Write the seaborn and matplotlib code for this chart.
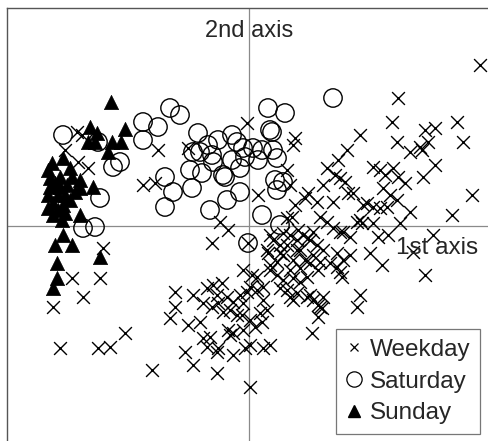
import matplotlib
matplotlib.use("Agg")
import matplotlib.pyplot as plt
from matplotlib.lines import Line2D
import seaborn as sns
import pandas as pd

# scores on the first two axes
weekday_x = [
    -1.72, -1.67, -1.84, -1.71, -1.61, -0.91, -1.06, -0.94, -0.61, -1.46,
    -1.77, -1.49, -1.66, -1.96, -1.24, -1.89, -1.51, -1.39, -0.97,
    -0.02, 0.46, 0.44, 0.09, -0.29, -0.21, -0.37, 0.38, 0.41, 0.98,
    1.49, 1.43, 2.08, 1.11, 1.76, 1.86, 1.48, 1.79, 1.71, 1.73,
    1.61, 2.14, 0.89, 1.86, 1.74, 1.24, 1.31, 1.44, 0.78, 0.86,
    0.91, 1.36, 1.49, 1.56, 0.74, 0.96, 0.99, 1.04, 1.34, 1.41,
    1.48, 0.59, 0.56, 0.46, 0.68, 0.84, 1.18, 1.24, 1.31, 2.23,
    1.61, 2.03, 0.43, 0.38, 0.71, 0.78, 0.84, 0.91, 1.08, 1.13,
    1.24, 1.51, 0.49, 0.54, 0.59, 0.21, 0.94, 1.01, 1.29, 1.39,
    1.84, 1.64, 1.21, 0.19, 0.31, 2.31,
    -0.74, -0.56, -0.74, -0.79, -0.61, -0.49, -0.42, -0.36, -0.27, -0.46,
    -0.37, -0.64, -0.56, -0.32, -0.16, -0.04, 0.14, 0.21, 0.01, -0.46,
    -0.39, -0.42, -0.31, -0.32, -0.21, -0.19, -0.06, 0.03, 0.28, 0.21,
    0.63, 0.71, 0.69, 0.41, 0.48, 0.58, 0.64, 0.34, 0.44, 0.51, 0.58,
    1.33, 1.76, 1.11, 1.08, 1.01, 0.94, 0.91, 0.93, 0.88, 0.81,
    0.88, 0.71, 0.69, 0.51, 0.56, 0.61, 0.74, 0.69, 0.73, 0.61,
    0.44, 0.38, 0.31, 0.21, 0.28, 0.08, 0.01, 0.08, 0.14, 0.18,
    0.11, -0.06, -0.07, 0.01, 0.06, 0.13, -0.06, 0.01, -0.16,
    -0.22, -0.16, -0.19, -0.12, -0.31, -0.32, -0.09, -0.02, -0.26, 0.14,
    0.41, 0.48, 0.61, 0.68, 0.64, 0.74, 0.38, 0.34, 0.44, 0.51,
    0.41, 0.48, 0.24, 0.31, 0.18, 0.34, 0.64, 1.14, 1.38, 1.11,
    -0.01,
]
weekday_y = [
    0.94, 0.91, 0.76, 0.64, 0.58, 0.76, 0.41, 0.43, 0.78, -0.22,
    -0.52, -0.52, -0.71, -0.81, -1.07, -1.22, -1.22, -1.21, -1.44,
    1.03, 0.88, 0.81, 0.31, 0.04, -0.04, -0.17, 0.56, 0.41, 0.76,
    1.28, 1.04, 1.04, 0.91, 0.96, 0.98, 0.84, 0.84, 0.79, 0.76,
    0.74, 0.84, 0.66, 0.61, 0.49, 0.59, 0.56, 0.58, 0.58, 0.51,
    0.48, 0.51, 0.49, 0.43, 0.41, 0.44, 0.33, 0.33, 0.38, 0.31,
    0.26, 0.33, 0.28, 0.21, 0.24, 0.24, 0.23, 0.19, 0.18, 0.31,
    0.14, 0.11, 0.09, 0.08, 0.09, 0.04, -0.02, -0.06, 0.04, 0.03,
    0.03, 0.03, -0.04, -0.09, -0.12, -0.09, -0.06, -0.11, -0.11, -0.09,
    -0.09, -0.26, -0.27, -0.27, -0.27, 1.61,
    -0.66, -0.69, -0.81, -0.92, -0.99, -0.96, -0.62, -0.59, -0.57, -0.77,
    -0.81, -1.26, -1.39, -1.47, -1.29, -1.22, -1.22, -1.19, -1.61, -1.12,
    -1.11, -1.21, -1.22, -1.26, -1.04, -1.09, -0.44, -0.49, -0.36, -0.39,
    -1.07, -0.81, -0.91, -0.71, -0.67, -0.71, -0.74, -0.54, -0.52, -0.56, -0.51,
    -0.39, -0.49, -0.69, -0.81, -0.29, -0.34, -0.46, -0.51, -0.27, -0.37,
    -0.41, -0.36, -0.44, -0.24, -0.34, -0.37, -0.71, -0.79, -0.82, -0.69,
    -0.74, -0.64, -0.62, -0.44, -0.49, -0.51, -0.61, -0.64, -0.74, -0.84,
    -0.87, -0.77, -0.89, -0.94, -1.01, -0.96, -1.04, -1.19, -1.07,
    -0.71, -0.76, -0.84, -0.89, -0.77, -0.69, -0.69, -0.66, -0.86, -0.61,
    -0.09, -0.14, -0.14, -0.19, -0.29, -0.24, -0.19, -0.29, -0.34, -0.42,
    -0.44, -0.24, -0.14, -0.19, -0.24, -0.07, -0.06, 0.21, 0.19, 0.06,
    -0.17,
]

saturday_x = [
    -1.86, -1.06, -0.91, -1.06, -1.51, -1.36, -1.29, -1.49, -1.66, -1.54,
    -0.79, -0.69, -0.84, -0.76, -0.84, -0.51, -0.31, -0.17, -0.12, -0.56,
    -0.49, -0.37, -0.36, -0.06, 0.04, 0.13, -0.04, 0.19, 0.36, 0.21,
    0.23, 0.24, 0.28, -0.59, -0.47, -0.26, -0.24, -0.09, -0.57, -0.09,
    -0.22, -0.39, 0.13, 0.31, 0.26, 0.34, 0.28, 0.84, -0.01, -0.41,
    -0.17, 0.09,
]
saturday_y = [
    0.91, 1.04, 0.99, 0.86, 0.84, 0.59, 0.64, 0.28, -0.02, -0.01,
    1.18, 1.11, 0.49, 0.34, 0.19, 0.93, 0.86, 0.91, 0.84, 0.74,
    0.74, 0.71, 0.64, 0.78, 0.78, 0.76, 0.69, 1.18, 1.13, 0.96,
    0.94, 0.76, 0.68, 0.56, 0.53, 0.51, 0.49, 0.58, 0.38, 0.34,
    0.26, 0.16, 0.11, 0.01, 0.46, 0.44, 0.36, 1.28, -0.17, 0.81,
    0.66, 0.66,
]

sunday_x = [
    -1.38, -1.59, -1.24, -1.52, -1.61, -1.54, -1.37, -1.28, -1.41, -1.86,
    -2.01, -1.79, -1.99, -1.89, -1.77, -1.69, -1.99, -1.89, -1.69, -1.56,
    -2.01, -1.91, -1.84, -1.96, -1.86, -1.96, -1.84, -1.69, -1.87, -1.86,
    -1.94, -1.77, -1.49, -1.92, -1.92, -1.96, -1.97, -1.94, -1.82, -1.91,
    -2.01, -1.79, -1.74,
]
sunday_y = [
    1.24, 0.99, 0.97, 0.93, 0.84, 0.84, 0.84, 0.84, 0.74, 0.68,
    0.56, 0.58, 0.48, 0.49, 0.49, 0.46, 0.39, 0.39, 0.38, 0.39,
    0.31, 0.31, 0.31, 0.23, 0.21, 0.11, 0.13, 0.11, 0.06, -0.09,
    -0.19, -0.19, -0.31, -0.37, -0.52, -0.62, 0.63, 0.43, 0.41, 0.16,
    0.18, 0.26, 0.34,
]

weekday = pd.DataFrame({"x": weekday_x, "y": weekday_y})
saturday = pd.DataFrame({"x": saturday_x, "y": saturday_y})
sunday = pd.DataFrame({"x": sunday_x, "y": sunday_y})

sns.set_style("white")
plt.rcParams["font.family"] = ["Liberation Sans", "DejaVu Sans"]

fig = plt.figure(figsize=(4.88, 4.41), dpi=100)
ax = fig.add_axes([7 / 488, 0, 481 / 488, 433 / 441])

ax.axhline(0, color="#8a8a8a", lw=0.9, zorder=0)
ax.axvline(0, color="#8a8a8a", lw=0.9, zorder=0)

sns.scatterplot(data=weekday, x="x", y="y", marker="x", s=85, color="black",
                linewidth=1.0, ax=ax, legend=False, zorder=2)
ax.scatter(saturday["x"], saturday["y"], marker="o", s=175, facecolors="none",
           edgecolors="black", linewidths=1.0, zorder=3)
sns.scatterplot(data=sunday, x="x", y="y", marker="^", s=105, color="black",
                edgecolor="black", linewidth=0.5, ax=ax, legend=False, zorder=4)

ax.set_xlim(-2.42, 2.39)
ax.set_ylim(-2.15, 2.18)
ax.set_xticks([])
ax.set_yticks([])
ax.set_xlabel("")
ax.set_ylabel("")
for side in ["right", "bottom"]:
    ax.spines[side].set_visible(False)
for side in ["left", "top"]:
    ax.spines[side].set_color("#555555")
    ax.spines[side].set_linewidth(1.0)

ax.text(0, 1.89, "2nd axis", ha="center", va="baseline", fontsize=17)
ax.text(2.29, -0.28, "1st axis", ha="right", va="baseline", fontsize=17.5)

handles = [
    Line2D([], [], ls="none", marker="x", ms=6, mew=0.9, color="black"),
    Line2D([], [], ls="none", marker="o", ms=11, mew=0.9, mfc="none", mec="black"),
    Line2D([], [], ls="none", marker="^", ms=8, color="black"),
]
leg = fig.legend(handles, ["Weekday", "Saturday", "Sunday"],
                 loc="lower right", bbox_to_anchor=(480 / 488, 7 / 441),
                 bbox_transform=fig.transFigure, fontsize=17.5, frameon=True,
                 fancybox=False, handlelength=0.7, handletextpad=0.3,
                 labelspacing=0.4, borderpad=0.4, borderaxespad=0)
leg.get_frame().set_edgecolor("#555555")
leg.get_frame().set_linewidth(0.9)

fig.savefig("out.png", dpi=100)
